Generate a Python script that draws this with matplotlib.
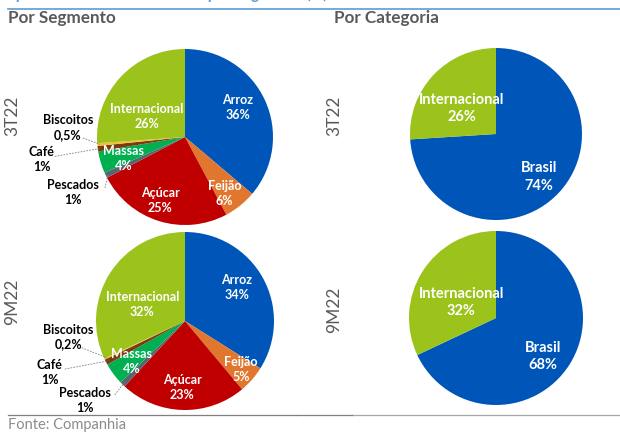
import numpy as np
import matplotlib
matplotlib.use("Agg")
import matplotlib.pyplot as plt

plt.rcParams['font.family'] = ['Lato', 'DejaVu Sans']

# -------------- data --------------
seg_names = ["Arroz", "Feijão", "Açúcar", "Pescados", "Massas", "Café", "Biscoitos", "Internacional"]
seg_3t22 = [36, 6, 25, 1, 4, 1, 0.5, 26]
seg_9m22 = [34, 5, 23, 1, 4, 1, 0.2, 32]
seg_lbl_3t22 = ["36%", "6%", "25%", "1%", "4%", "1%", "0,5%", "26%"]
seg_lbl_9m22 = ["34%", "5%", "23%", "1%", "4%", "1%", "0,2%", "32%"]

cat_names = ["Brasil", "Internacional"]
cat_3t22 = [74, 26]
cat_9m22 = [68, 32]

periods = ["3T22", "9M22"]

seg_colors = ["#0056B8", "#E1772E", "#C00000", "#5B6270", "#00B050", "#7B3A10", "#F2C12E", "#9BC31C"]
cat_colors = ["#0056B8", "#9BC31C"]

# small slices get their label outside with a dashed leader
outside = {"Pescados", "Café", "Biscoitos"}

W, H = 620, 432
fig = plt.figure(figsize=(6.2, 4.32), dpi=100)
ax = fig.add_axes([0, 0, 1, 1])


def Y(y):
    ''' image row (top-down) -> plot y '''
    return H - y


def draw_pie(vals, names, lbls, colors, cx, cy, r, lab_pos, lead_pos=None, fs=9):
    wedges, _ = ax.pie(vals, colors=colors, startangle=90, counterclock=False,
                       center=(cx, Y(cy)), radius=r,
                       wedgeprops=dict(linewidth=0))
    for w, name, lbl in zip(wedges, names, lbls):
        dx, dy = lab_pos[name]
        tx, ty = cx + dx * r, Y(cy) + dy * r
        col = "black" if name in outside else "white"
        ax.text(tx, ty, name + "\n" + lbl, ha="center", va="center",
                color=col, fontsize=fs, fontweight="bold", linespacing=1.3)
        if lead_pos and name in lead_pos:
            mid = np.deg2rad((w.theta1 + w.theta2) / 2)
            ex = w.center[0] + 0.97 * w.r * np.cos(mid)
            ey = w.center[1] + 0.97 * w.r * np.sin(mid)
            sx, sy = lead_pos[name]
            ax.plot([cx + sx * r, ex], [Y(cy) + sy * r, ey], color="#7F7F7F",
                    lw=0.6, ls=(0, (2, 1.5)))


# left column: por segmento
draw_pie(seg_3t22, seg_names, seg_lbl_3t22, seg_colors, 185, 137, 88,
         {"Arroz": (0.60, 0.34), "Feijão": (0.45, -0.64), "Açúcar": (-0.28, -0.72),
          "Massas": (-0.70, -0.24), "Internacional": (-0.43, 0.23),
          "Biscoitos": (-1.33, 0.11), "Café": (-1.63, -0.26), "Pescados": (-1.27, -0.63)},
         {"Biscoitos": (-1.16, -0.01), "Café": (-1.48, -0.22), "Pescados": (-0.91, -0.58)})
draw_pie(seg_9m22, seg_names, seg_lbl_9m22, seg_colors, 185, 321, 89,
         {"Arroz": (0.58, 0.38), "Feijão": (0.63, -0.55), "Açúcar": (-0.03, -0.75),
          "Massas": (-0.60, -0.46), "Internacional": (-0.48, 0.18),
          "Biscoitos": (-1.31, -0.18), "Café": (-1.52, -0.58), "Pescados": (-1.12, -0.89)},
         {"Biscoitos": (-1.16, -0.30), "Café": (-1.35, -0.54), "Pescados": (-0.79, -0.83)})

# right column: por categoria
cat_lbl_3t22 = ["%d%%" % v for v in cat_3t22]
cat_lbl_9m22 = ["%d%%" % v for v in cat_9m22]
draw_pie(cat_3t22, cat_names, cat_lbl_3t22, cat_colors, 496, 134, 86,
         {"Brasil": (0.50, -0.50), "Internacional": (-0.40, 0.30)}, fs=10.5)
draw_pie(cat_9m22, cat_names, cat_lbl_9m22, cat_colors, 496, 318, 87,
         {"Brasil": (0.54, -0.44), "Internacional": (-0.40, 0.18)}, fs=10.5)

# period labels
for x in (12, 334):
    ax.text(x, Y(116), periods[0], rotation=90, ha="center", va="center",
            fontsize=12.5, color="#595959")
for x, y in ((12, 302), (334, 310)):
    ax.text(x, Y(y), periods[1], rotation=90, ha="center", va="center",
            fontsize=12.5, color="#595959")

# headings (the top title is cut off by the crop, as in the source)
ax.text(-2, Y(-1), "Representatividade da Receita por Segmento (%)", ha="left",
        va="baseline", fontsize=11, fontweight="bold", color="#5B9BD5")
ax.plot([8, W], [Y(8.5), Y(8.5)], color="#5B9BD5", lw=1.2)
ax.text(8, Y(18), "Por Segmento", ha="left", va="center", fontsize=12.3,
        fontweight="bold", color="#595959")
ax.text(334, Y(18), "Por Categoria", ha="left", va="center", fontsize=12.3,
        fontweight="bold", color="#595959")

# footer
ax.plot([8, 297], [Y(415), Y(415)], color="#7F7F7F", lw=0.9)
ax.plot([352, W], [Y(414.5), Y(414.5)], color="#A6A6A6", lw=0.9)
ax.plot([297, 352], [Y(415), Y(415)], color="#7F7F7F", lw=0.9)
ax.text(8, Y(425), "Fonte: Companhia", ha="left", va="center", fontsize=10.5,
        color="#8C8C8C")

ax.set_xlim(0, W)
ax.set_ylim(0, H)
ax.set_aspect("equal")
ax.axis("off")

fig.savefig("out.png", dpi=100)
